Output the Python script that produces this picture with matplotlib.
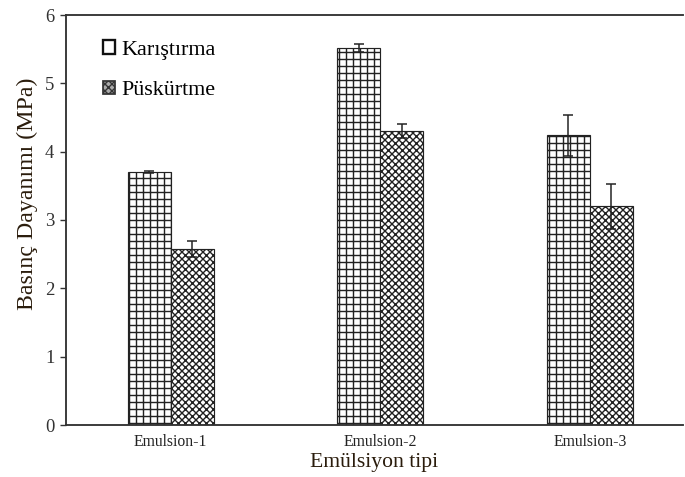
import matplotlib
matplotlib.use("Agg")
import matplotlib.pyplot as plt
from matplotlib.patches import Patch
import numpy as np

plt.rcParams['font.family'] = ['Liberation Serif', 'DejaVu Serif']
plt.rcParams['hatch.linewidth'] = 1.2

categories = ["Emulsion-1", "Emulsion-2", "Emulsion-3"]
karistirma = [3.70, 5.52, 4.24]
karistirma_err = [0.01, 0.06, 0.30]
puskurtme = [2.58, 4.30, 3.20]
puskurtme_err = [0.12, 0.10, 0.33]
series_names = ["Karıştırma", "Püskürtme"]
yticks = [0, 1, 2, 3, 4, 5, 6]

DPI = 84
fig = plt.figure(figsize=(685 / DPI, 477 / DPI), dpi=DPI)
ax = fig.add_axes([66 / 685, 52 / 477, 617 / 685, 410 / 477])

x = np.arange(len(categories))
w = 0.205

ax.bar(x - w / 2, karistirma, w, facecolor='white', edgecolor='#222222',
       hatch='++', linewidth=1.0, zorder=2)
ax.bar(x + w / 2, puskurtme, w, facecolor='white', edgecolor='#222222',
       hatch='xxxx', linewidth=1.0, zorder=2)
ax.errorbar(x - w / 2, karistirma, yerr=karistirma_err, fmt='none',
            ecolor='#222222', elinewidth=1.3, capsize=4, capthick=1.3, zorder=3)
ax.errorbar(x + w / 2, puskurtme, yerr=puskurtme_err, fmt='none',
            ecolor='#222222', elinewidth=1.3, capsize=4, capthick=1.3, zorder=3)

ax.set_xlim(-0.5, 2.445)
ax.set_ylim(0, 6)
ax.set_yticks(yticks)
ax.set_xticks(x)
ax.set_xticklabels(categories, fontsize=13.5, color='#222222')
ax.tick_params(axis='x', length=0, pad=8)
ax.tick_params(axis='y', length=5, width=1.2, colors='#333333',
               labelsize=16, pad=5)

for side in ['left', 'bottom', 'top']:
    ax.spines[side].set_color('#333333')
    ax.spines[side].set_linewidth(1.6)
ax.spines['right'].set_visible(False)

ax.set_ylabel("Basınç Dayanımı (MPa)", fontsize=20.5, color='#2a1c0c')
ax.yaxis.set_label_coords(-0.046, 0.563)
ax.set_xlabel("Emülsiyon tipi", fontsize=18.5, color='#2a1c0c', labelpad=2)

handles = [
    Patch(facecolor='white', edgecolor='#111111', linewidth=2.0),
    Patch(facecolor='#aaaaaa', edgecolor='#333333', linewidth=1.5, hatch='xxxx'),
]
ax.legend(handles, series_names, loc='upper left', bbox_to_anchor=(0.045, 0.96),
          frameon=False, fontsize=19, handlelength=0.55, handleheight=0.55,
          handletextpad=0.3, labelspacing=0.95, borderaxespad=0)

fig.savefig("out.png", dpi=DPI)
